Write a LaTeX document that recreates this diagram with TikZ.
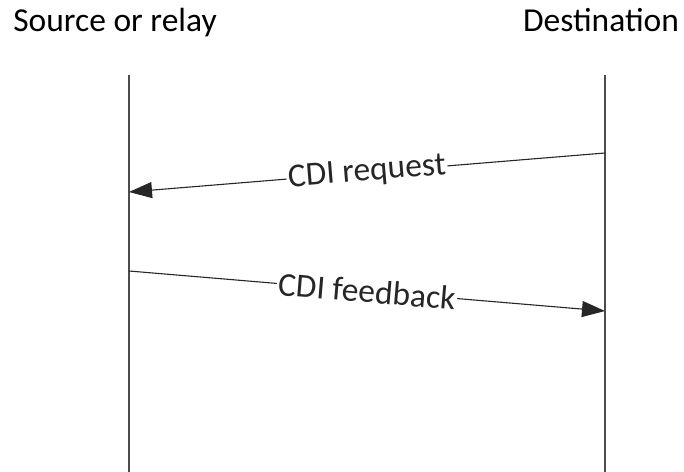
\documentclass[tikz,border=0pt]{standalone}
\usepackage{fontspec}
\setmainfont{Carlito}
\usetikzlibrary{arrows.meta}

\begin{document}
\begin{tikzpicture}[x=1bp,y=-1bp,
        every node/.style={font=\fontsize{33.5bp}{40bp}\selectfont},
        lifeline/.style={line width=1.1bp,black!70},
        message/.style={line width=1.1bp,black!85,-{Triangle[length=23bp,width=16bp]}},
        msglabel/.style={fill=white,inner sep=1.5bp,sloped}]
        \useasboundingbox (0,0) rectangle (684,472);
        % the two parties
        \node[anchor=base] (src) at (115,32) {Source or relay};
        \node[anchor=base] (dst) at (601,32) {Destination};
        \coordinate (srctop) at (129,75);
        \coordinate (srcbot) at (129,472);
        \coordinate (dsttop) at (605,75);
        \coordinate (dstbot) at (605,472);
        \draw[lifeline] (srctop) -- (srcbot);
        \draw[lifeline] (dsttop) -- (dstbot);
        % the messages
        \coordinate (reqfrom) at (605,153);
        \coordinate (reqto) at (129,192);
        \coordinate (fbfrom) at (129,271);
        \coordinate (fbto) at (605,311);
        \draw[message] (reqfrom) -- node[msglabel] (req) {CDI request} (reqto);
        \draw[message] (fbfrom) -- node[msglabel] (fb) {CDI feedback} (fbto);
    \end{tikzpicture}
\end{document}
